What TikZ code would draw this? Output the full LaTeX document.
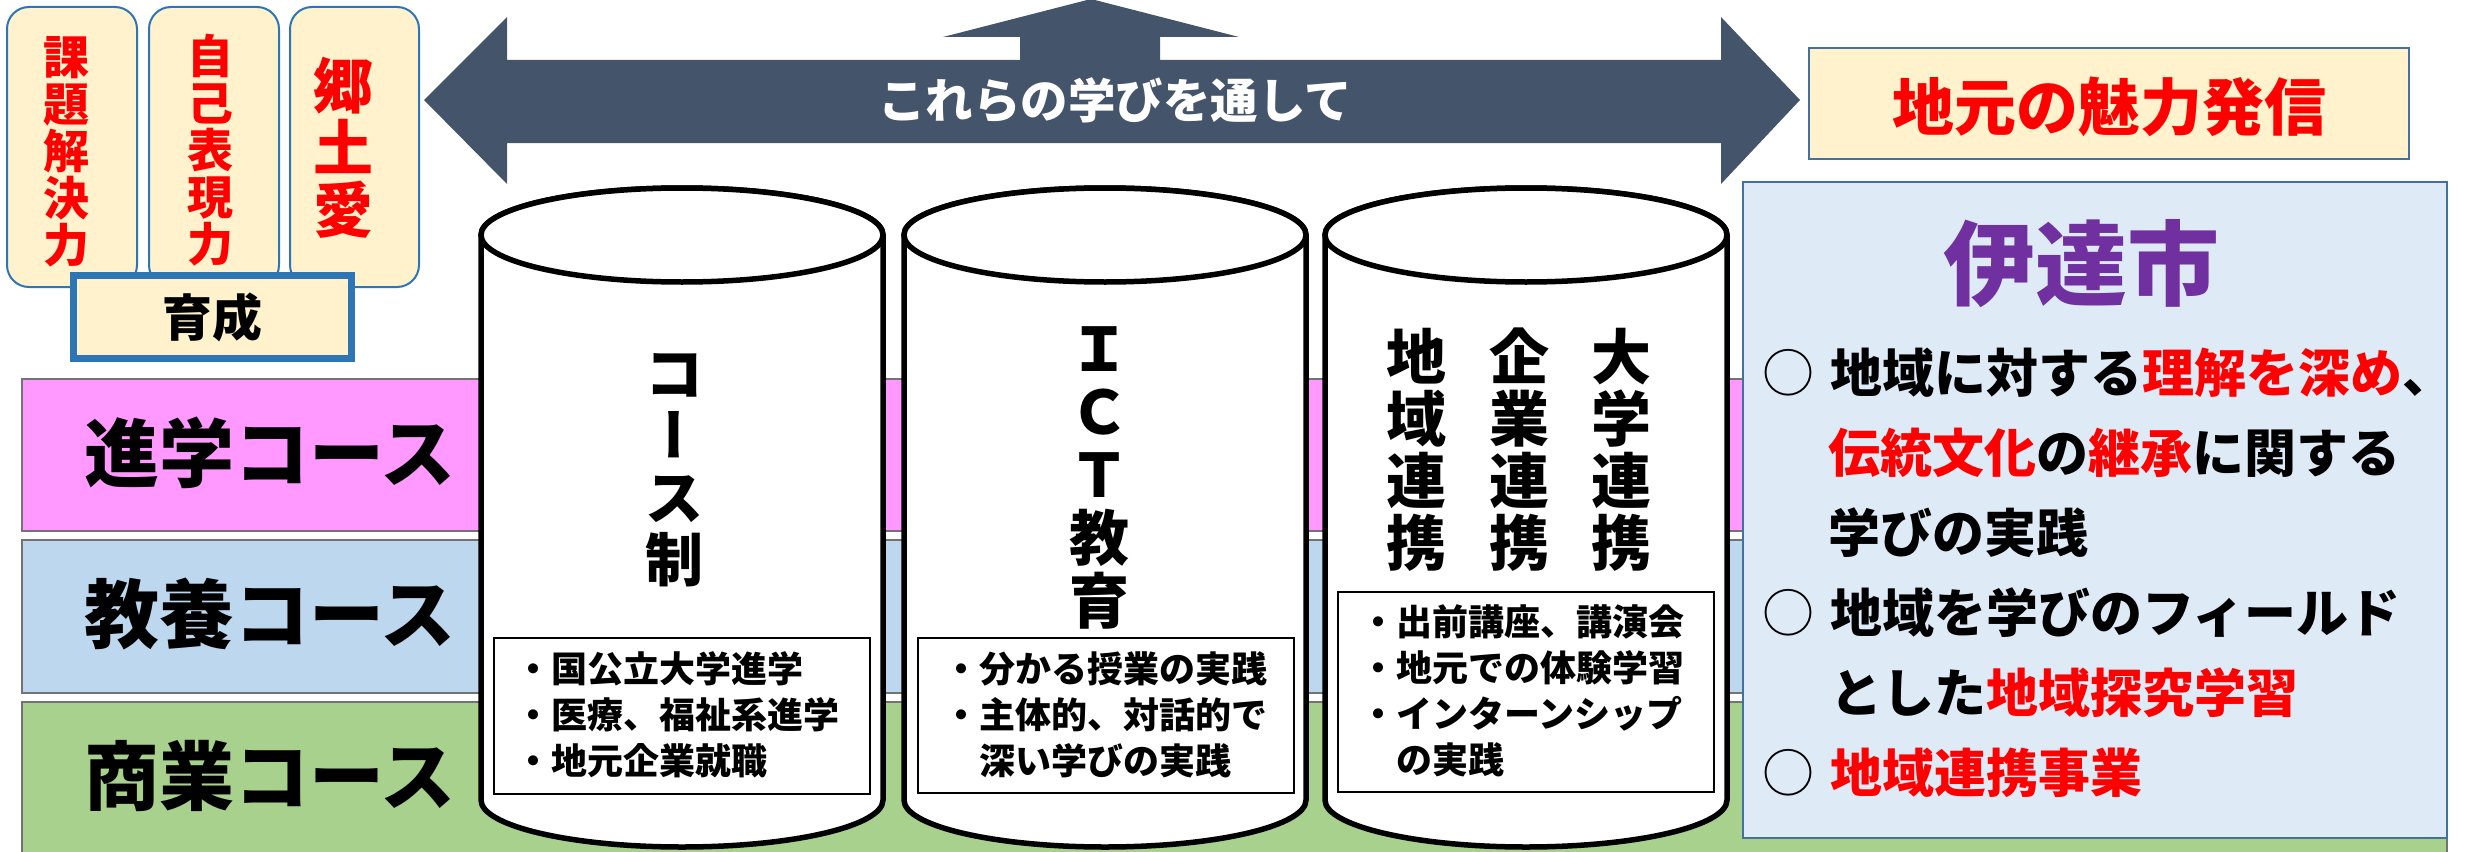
\documentclass[tikz,border=0pt]{standalone}
\usepackage{fontspec}
\setmainfont{Noto Sans CJK JP}
\newfontfamily\vertfont{Noto Sans CJK JP}[RawFeature=+vert]
\definecolor{cream}{HTML}{FFF2CC}
\definecolor{bblue}{HTML}{2E75B6}
\definecolor{sblue}{HTML}{41719C}
\definecolor{lblue}{HTML}{DEEBF7}
\definecolor{pinkb}{HTML}{FF99FF}
\definecolor{blueb}{HTML}{BDD7EE}
\definecolor{greenb}{HTML}{A9D18E}
\definecolor{arrowc}{HTML}{44546A}
\definecolor{purp}{HTML}{7030A0}
\definecolor{redc}{HTML}{FF0000}
\newcommand\myfs[2]{\fontsize{#1}{#2}\selectfont}
\tikzset{
  band/.style={draw=black!55, line width=1.5},
  cyl/.style={draw=black, line width=5.5, fill=white},
  listbox/.style={draw=black, line width=1.5, fill=white},
  roundbox/.style={draw=bblue, line width=2, fill=cream, rounded corners=22},
  lbl/.style={inner sep=0, outer sep=0},
  bandtext/.style={lbl, anchor=west, font={\bfseries\myfs{75}{80}}},
  listtext/.style={lbl, anchor=west, align=left, font={\bfseries\myfs{36}{46}}},
  righttext/.style={lbl, anchor=west, font={\bfseries\myfs{52}{60}}},
  circtext/.style={lbl, font={\myfs{52}{60}}},
  pillar/.style={lbl, align=center, font={\bfseries\myfs{60}{62}}},
}
\begin{document}
\begin{tikzpicture}[x=1pt,y=-1pt]
\useasboundingbox (0,0) rectangle (2470,851);
% course bands
\draw[band, fill=pinkb] (22,379) rectangle (2447,531);
\draw[band, fill=blueb] (22,540) rectangle (2447,693);
\draw[band, fill=greenb] (22,702) rectangle (2447,870);
\node[bandtext] (shingaku) at (84,453) {進学コース};
\node[bandtext] (kyoyo) at (84,614) {教養コース};
\node[bandtext] (shogyo) at (84,776) {商業コース};
% cylinders
\foreach \cx in {682,1105,1526}{
  \draw[cyl] (\cx-201,235) -- (\cx-201,800) arc[start angle=180, end angle=0, x radius=201, y radius=47]
     -- (\cx+201,235) arc[start angle=0, end angle=-180, x radius=201, y radius=47] -- cycle;
  \draw[cyl] (\cx,235) ellipse[x radius=201, y radius=47];
}
\node[pillar, font={\bfseries\myfs{58}{62}}] (course) at (674,470) {コ\\{\vertfont ー}\\ス\\制};
\node[pillar, font={\bfseries\myfs{60}{63}}] (ict) at (1099,478) {Ｉ\\Ｃ\\Ｔ\\教\\育};
\node[pillar] (chiiki) at (1416,450) {地\\域\\連\\携};
\node[pillar] (kigyo) at (1519,450) {企\\業\\連\\携};
\node[pillar] (daigaku) at (1621,450) {大\\学\\連\\携};
\draw[listbox] (494,638) rectangle (870,794);
\node[listtext] (list1) at (515,715) {・国公立大学進学\\・医療、福祉系進学\\・地元企業就職};
\draw[listbox] (918,638) rectangle (1294,793);
\node[listtext] (list2) at (943,715) {・分かる授業の実践\\・主体的、対話的で\\　深い学びの実践};
\draw[listbox] (1338,592) rectangle (1714,792);
\node[listtext] (list3) at (1360,691) {・出前講座、講演会\\・地元での体験学習\\・インターンシップ\\　の実践};
% big arrow
\fill[arrowc] (424,100) -- (507,17) -- (507,60) -- (1020,60) -- (1020,37) -- (943,37) -- (1091,-1)
  -- (1239,37) -- (1160,37) -- (1160,60) -- (1721,60) -- (1721,17) -- (1800,100) -- (1721,184)
  -- (1721,143) -- (507,143) -- (507,184) -- cycle;
\node[lbl, text=white, font={\bfseries\myfs{47.5}{50}}] (through) at (1115,100) {これらの学びを通して};
% top-left boxes
\draw[roundbox] (7,7) rectangle (137,287);
\draw[roundbox] (149,7) rectangle (279,287);
\draw[roundbox] (290,7) rectangle (419,287);
\node[pillar, text=redc, font={\bfseries\myfs{46}{47}}] (kadai) at (66,152) {課\\題\\解\\決\\力};
\node[pillar, text=redc, font={\bfseries\myfs{46}{47}}] (jiko) at (210,150) {自\\己\\表\\現\\力};
\node[pillar, text=redc, font={\bfseries\myfs{60}{62}}] (kyodo) at (343,148) {郷\\土\\愛};
\draw[draw=bblue, line width=7, fill=cream] (73.5,275.5) rectangle (351.5,358.5);
\node[lbl, font={\bfseries\myfs{50}{56}}] (ikusei) at (212,317) {育成};
% local appeal box
\draw[draw=sblue, line width=2, fill=cream] (1809,48) rectangle (2409,159);
\node[lbl, text=redc, font={\bfseries\myfs{62}{66}}] (miryoku) at (2109,107) {地元の魅力発信};
% Date city box
\draw[draw=sblue, line width=2.5, fill=lblue] (1743,182) rectangle (2447,838);
\node[lbl, text=purp, font={\bfseries\myfs{92}{96}}] (date) at (2081,264) {伊達市};
\node[circtext] (o1) at (1788,373) {○};
\node[righttext] (r1) at (1830,373) {地域に対する\textcolor{redc}{理解を深め}、};
\node[righttext] (r2) at (1828,453) {\textcolor{redc}{伝統文化}の\textcolor{redc}{継承}に関する};
\node[righttext] (r3) at (1828,533) {学びの実践};
\node[circtext] (o2) at (1788,613) {○};
\node[righttext] (r4) at (1830,613) {地域を学びのフィールド};
\node[righttext] (r5) at (1830,693) {とした\textcolor{redc}{地域探究学習}};
\node[circtext] (o3) at (1788,773) {○};
\node[righttext] (r6) at (1830,773) {\textcolor{redc}{地域連携事業}};
\end{tikzpicture}
\end{document}
